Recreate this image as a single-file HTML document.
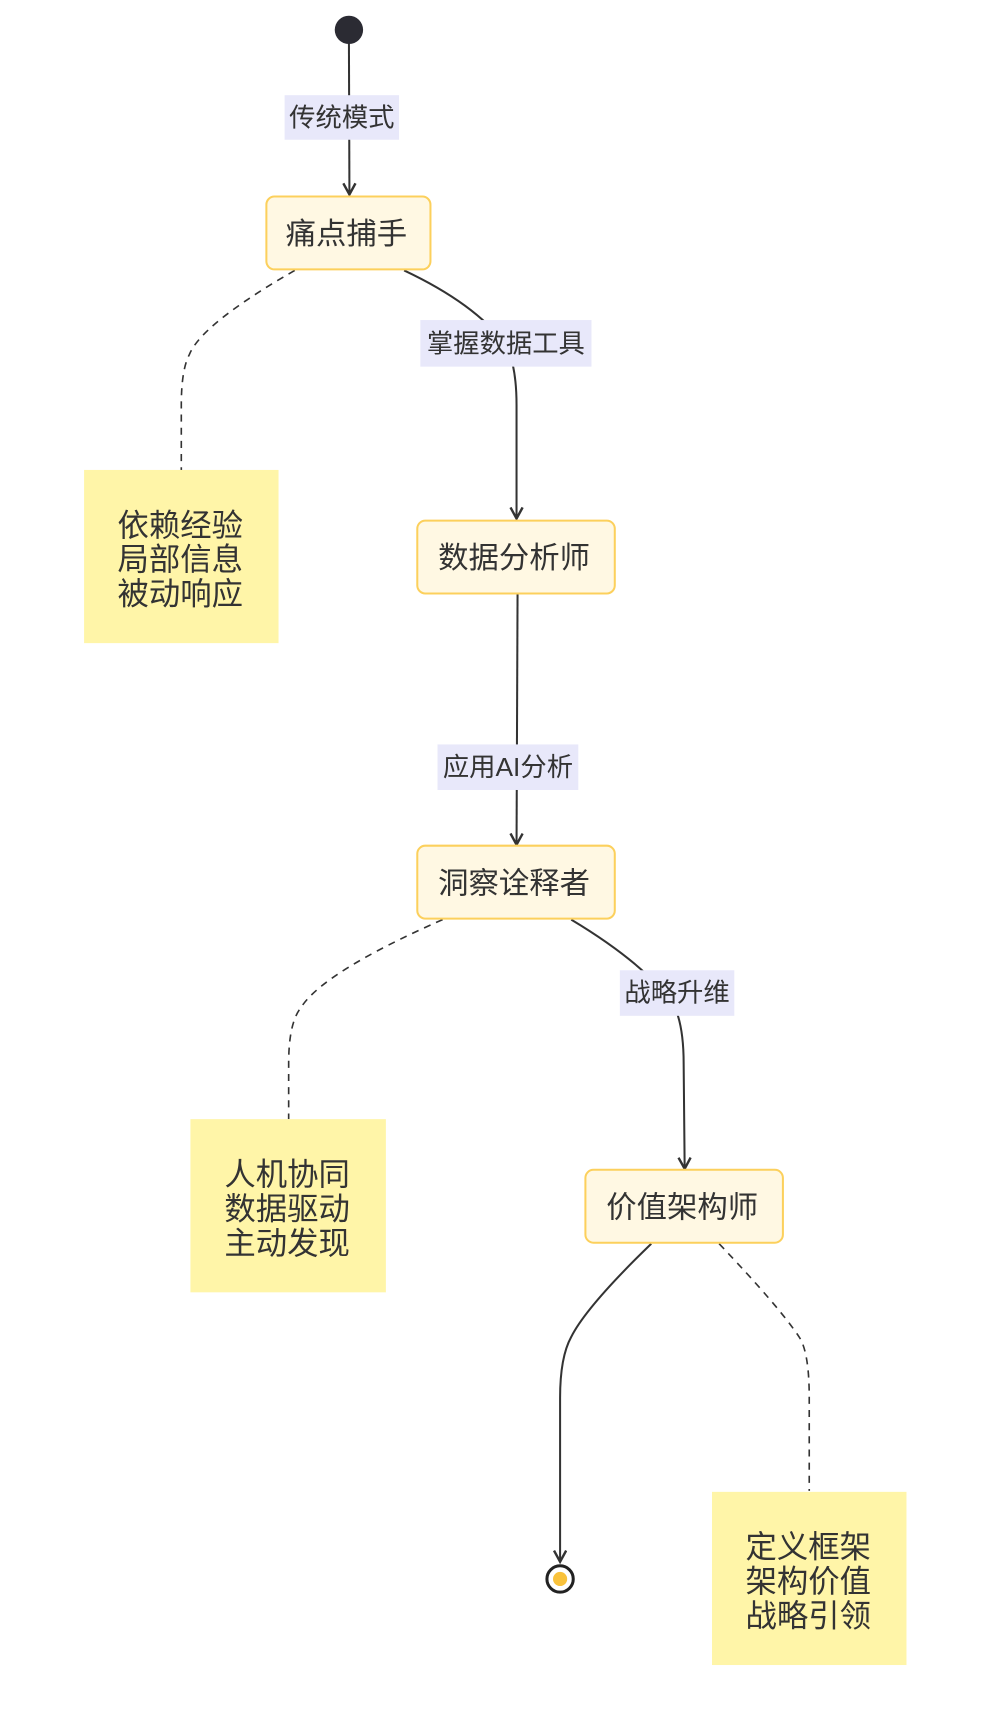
<!DOCTYPE html>
<html><head><meta charset="utf-8"><style>
html,body{margin:0;padding:0;background:#fff;}
svg{display:block;}
text{font-family:"Liberation Sans","Noto Sans CJK SC",sans-serif;fill:#333;}
</style></head><body>
<svg width="992" height="1730" viewBox="0 0 992 1730" xmlns="http://www.w3.org/2000/svg">
<defs>
<marker id="ar" viewBox="0 0 14 14" refX="12" refY="7" markerWidth="14" markerHeight="14" orient="auto" markerUnits="userSpaceOnUse">
<path d="M1,1 L12,7 L1,13" fill="none" stroke="#333" stroke-width="2.4"/>
</marker>
</defs>
<g transform="translate(-1,0) scale(1.0128)">
<g fill="none" stroke="#333" stroke-width="2">
<path d="M345.5,40 L346,192" marker-end="url(#ar)"/>
<path d="M400,267 Q470,300 500,340 Q511,360 511,400 L511,512" marker-end="url(#ar)"/>
<path d="M512,586 L511,834" marker-end="url(#ar)"/>
<path d="M565,908 Q635,950 665,990 Q676,1010 676,1050 L677,1154" marker-end="url(#ar)"/>
<path d="M644,1228 Q580,1290 565,1320 Q554,1340 554,1380 L554,1542" marker-end="url(#ar)"/>
</g>
<g fill="none" stroke="#333" stroke-width="1.6" stroke-dasharray="7,6">
<path d="M292,267 Q200,320 188,350 Q180,365 180,400 L180,464"/>
<path d="M438,908 Q320,960 298,995 Q286,1010 286,1050 L286,1105"/>
<path d="M711,1228 Q770,1290 790,1320 Q800,1335 800,1380 L800,1472"/>
</g>
<circle cx="345.5" cy="29.5" r="14" fill="#2b2b33"/>
<circle cx="554" cy="1559" r="13" fill="#fff" stroke="#222" stroke-width="3"/>
<circle cx="554" cy="1559" r="7" fill="#f9c23c"/>
<rect x="282" y="94" width="113" height="44" fill="#e8e8fa"/>
<text x="338.5" y="125" font-size="26" text-anchor="middle">传统模式</text>
<rect x="416" y="316" width="169" height="46" fill="#e8e8fa"/>
<text x="500.5" y="348" font-size="26" text-anchor="middle">掌握数据工具</text>
<rect x="433" y="735" width="139" height="45" fill="#e8e8fa"/>
<text x="502.5" y="766" font-size="26" text-anchor="middle">应用AI分析</text>
<rect x="613" y="958" width="113" height="45" fill="#e8e8fa"/>
<text x="669.5" y="989" font-size="26" text-anchor="middle">战略升维</text>
<g fill="#fff8e3" stroke="#fcd05c" stroke-width="2">
<rect x="264" y="194" width="162" height="72" rx="8"/>
<rect x="413" y="514" width="195" height="72" rx="8"/>
<rect x="413" y="835" width="195" height="72" rx="8"/>
<rect x="579" y="1155" width="195" height="72" rx="8"/>
</g>
<g font-size="30" text-anchor="middle">
<text x="343" y="241">痛点捕手</text>
<text x="508.5" y="561">数据分析师</text>
<text x="508.5" y="882">洞察诠释者</text>
<text x="674.5" y="1202">价值架构师</text>
</g>
<g fill="#fff5a8">
<rect x="84" y="464" width="192" height="171"/>
<rect x="189" y="1105" width="193" height="171"/>
<rect x="704" y="1473" width="192" height="171"/>
</g>
<g font-size="31" text-anchor="middle">
<text x="179" y="529">依赖经验</text>
<text x="179" y="563">局部信息</text>
<text x="179" y="597">被动响应</text>
<text x="284.5" y="1170">人机协同</text>
<text x="284.5" y="1204">数据驱动</text>
<text x="284.5" y="1238">主动发现</text>
<text x="799" y="1538">定义框架</text>
<text x="799" y="1572">架构价值</text>
<text x="799" y="1606">战略引领</text>
</g>
</g>
</svg>
</body></html>
